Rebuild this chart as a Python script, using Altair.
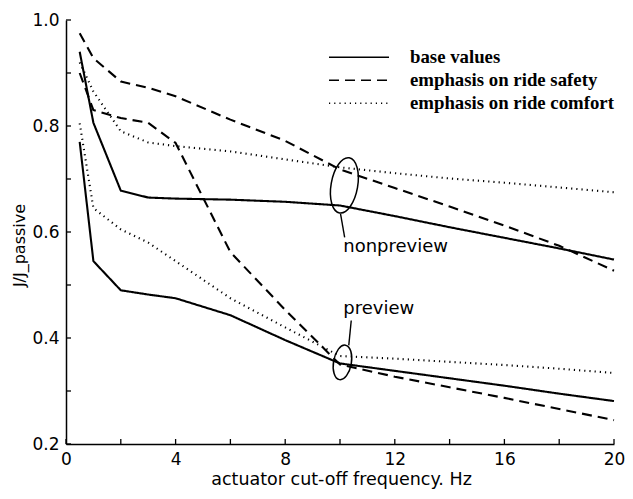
import altair as alt
import pandas as pd

# ---- data ----
freq = [0.5, 1, 2, 3, 4, 6, 8, 10, 12, 14, 16, 18, 20]

base_nonpreview = [0.940, 0.806, 0.678, 0.665, 0.663, 0.661, 0.657, 0.650, 0.630, 0.609, 0.589, 0.569, 0.548]
safety_nonpreview = [0.975, 0.928, 0.884, 0.872, 0.856, 0.812, 0.772, 0.718, 0.683, 0.648, 0.612, 0.574, 0.527]
comfort_nonpreview = [0.920, 0.865, 0.790, 0.769, 0.762, 0.752, 0.737, 0.722, 0.711, 0.701, 0.693, 0.684, 0.675]

base_preview = [0.770, 0.545, 0.490, 0.482, 0.475, 0.443, 0.396, 0.352, 0.338, 0.324, 0.310, 0.295, 0.281]
safety_preview = [0.900, 0.830, 0.815, 0.806, 0.768, 0.562, 0.453, 0.350, 0.327, 0.307, 0.287, 0.266, 0.245]
comfort_preview = [0.805, 0.645, 0.605, 0.580, 0.545, 0.475, 0.420, 0.366, 0.361, 0.355, 0.349, 0.342, 0.334]

settings = ["base values", "emphasis on ride safety", "emphasis on ride comfort"]
modes = ["nonpreview", "preview"]

x_labels = [0, 4, 8, 12, 16, 20]
x_ticks = [0, 2, 4, 6, 8, 10, 12, 14, 16, 18, 20]
y_labels = [0.2, 0.4, 0.6, 0.8, 1.0]
y_ticks = [0.2, 0.3, 0.4, 0.5, 0.6, 0.7, 0.8, 0.9, 1.0]

# annotations (data coordinates)
ellipse_x = [10.16, 10.09]
ellipse_y = [0.688, 0.354]
leader_x = [10.02, 10.41]
leader_x2 = [10.17, 10.32]
leader_y = [0.634, 0.433]
leader_y2 = [0.590, 0.386]
label_text = ["nonpreview", "preview"]
label_x = [10.12, 10.12]
label_y = [0.572, 0.455]

# ---- build table ----
rows = []
for setting, mode, vals in [
    (settings[0], modes[0], base_nonpreview),
    (settings[1], modes[0], safety_nonpreview),
    (settings[2], modes[0], comfort_nonpreview),
    (settings[0], modes[1], base_preview),
    (settings[1], modes[1], safety_preview),
    (settings[2], modes[1], comfort_preview),
]:
    for f, v in zip(freq, vals):
        rows.append({"freq": f, "value": v, "setting": setting, "mode": mode})
df = pd.DataFrame(rows)

W, H = 548, 424
SANS = "DejaVu Sans"
xscale = alt.Scale(domain=[0, 20], nice=False, zero=False)
yscale = alt.Scale(domain=[0.2, 1.0], nice=False, zero=False)

lines = alt.Chart(df).mark_line(strokeCap="butt", strokeJoin="round", color="black", strokeWidth=2.1).encode(
    x=alt.X("freq:Q", scale=xscale, axis=alt.Axis(
        values=x_labels, format="d", ticks=False, grid=False,
        domainColor="black", domainWidth=1.5,
        labelFont=SANS, labelFontSize=17, labelColor="black", labelPadding=7,
        labelFlush=False, labelOverlap=False,
        title="actuator cut-off frequency. Hz", titleFont=SANS, titleFontSize=17.5,
        titleFontWeight="normal", titleColor="black",
        titleX=275, titleY=35, titleBaseline="middle", titleAlign="center")),
    y=alt.Y("value:Q", scale=yscale, axis=alt.Axis(
        values=y_labels, format=".1f", ticks=False, grid=False,
        domainColor="black", domainWidth=1.5,
        labelFont=SANS, labelFontSize=17, labelColor="black", labelPadding=7,
        labelFlush=False, labelOverlap=False,
        title="J/J_passive", titleFont=SANS, titleFontSize=16,
        titleFontWeight="normal", titleColor="black",
        titleX=-47, titleY=225, titleAngle=270, titleBaseline="middle", titleAlign="center")),
    strokeDash=alt.StrokeDash("setting:N", scale=alt.Scale(domain=settings, range=[[1, 0], [10, 6], [1.2, 4]]),
        legend=alt.Legend(title=None, orient="none", legendX=262, legendY=26, padding=0,
                          symbolType="stroke", symbolSize=3600, symbolStrokeWidth=1.6,
                          symbolStrokeColor="black", clipHeight=22.5, rowPadding=0,
                          labelFont="Liberation Serif", labelFontWeight="bold", labelFontSize=18.8,
                          labelColor="black", labelOffset=20, labelLimit=400)),
    detail="mode:N",
    order="freq:Q",
)

xt = alt.Chart(pd.DataFrame({"freq": x_ticks})).mark_rule(color="black", strokeWidth=1.3).encode(
    x=alt.X("freq:Q", scale=xscale), y=alt.value(H), y2=alt.value(H - 5))
yt = alt.Chart(pd.DataFrame({"value": y_ticks})).mark_rule(color="black", strokeWidth=1.3).encode(
    y=alt.Y("value:Q", scale=yscale), x=alt.value(0), x2=alt.value(5))

ell1 = alt.Chart(pd.DataFrame({"freq": [ellipse_x[0]], "value": [ellipse_y[0]]})).mark_point(
    shape="M0,-1 A0.475,1 0 1,1 0,1 A0.475,1 0 1,1 0,-1 Z", size=3136, filled=False,
    stroke="black", strokeWidth=1.5, angle=10, opacity=1).encode(
    x=alt.X("freq:Q", scale=xscale), y=alt.Y("value:Q", scale=yscale))
ell2 = alt.Chart(pd.DataFrame({"freq": [ellipse_x[1]], "value": [ellipse_y[1]]})).mark_point(
    shape="M0,-1 A0.51,1 0 1,1 0,1 A0.51,1 0 1,1 0,-1 Z", size=1225, filled=False,
    stroke="black", strokeWidth=1.5, angle=10, opacity=1).encode(
    x=alt.X("freq:Q", scale=xscale), y=alt.Y("value:Q", scale=yscale))

leaders = alt.Chart(pd.DataFrame({"freq": leader_x, "x2": leader_x2, "value": leader_y, "y2": leader_y2})).mark_rule(
    color="black", strokeWidth=1.4).encode(
    x=alt.X("freq:Q", scale=xscale), x2="x2:Q",
    y=alt.Y("value:Q", scale=yscale), y2="y2:Q")

labels = alt.Chart(pd.DataFrame({"freq": label_x, "value": label_y, "t": label_text})).mark_text(
    align="left", baseline="middle", font=SANS, fontSize=18, color="black").encode(
    x=alt.X("freq:Q", scale=xscale), y=alt.Y("value:Q", scale=yscale), text="t:N")

chart = alt.layer(lines, xt, yt, ell1, ell2, leaders, labels).properties(
    width=W, height=H,
    padding={"left": 58, "top": 12, "right": 11, "bottom": 47},
    autosize=alt.AutoSizeParams(type="none"),
    background="white",
).configure_view(stroke=None)

chart.save("out.html", embed_options={"renderer": "svg", "actions": False})
